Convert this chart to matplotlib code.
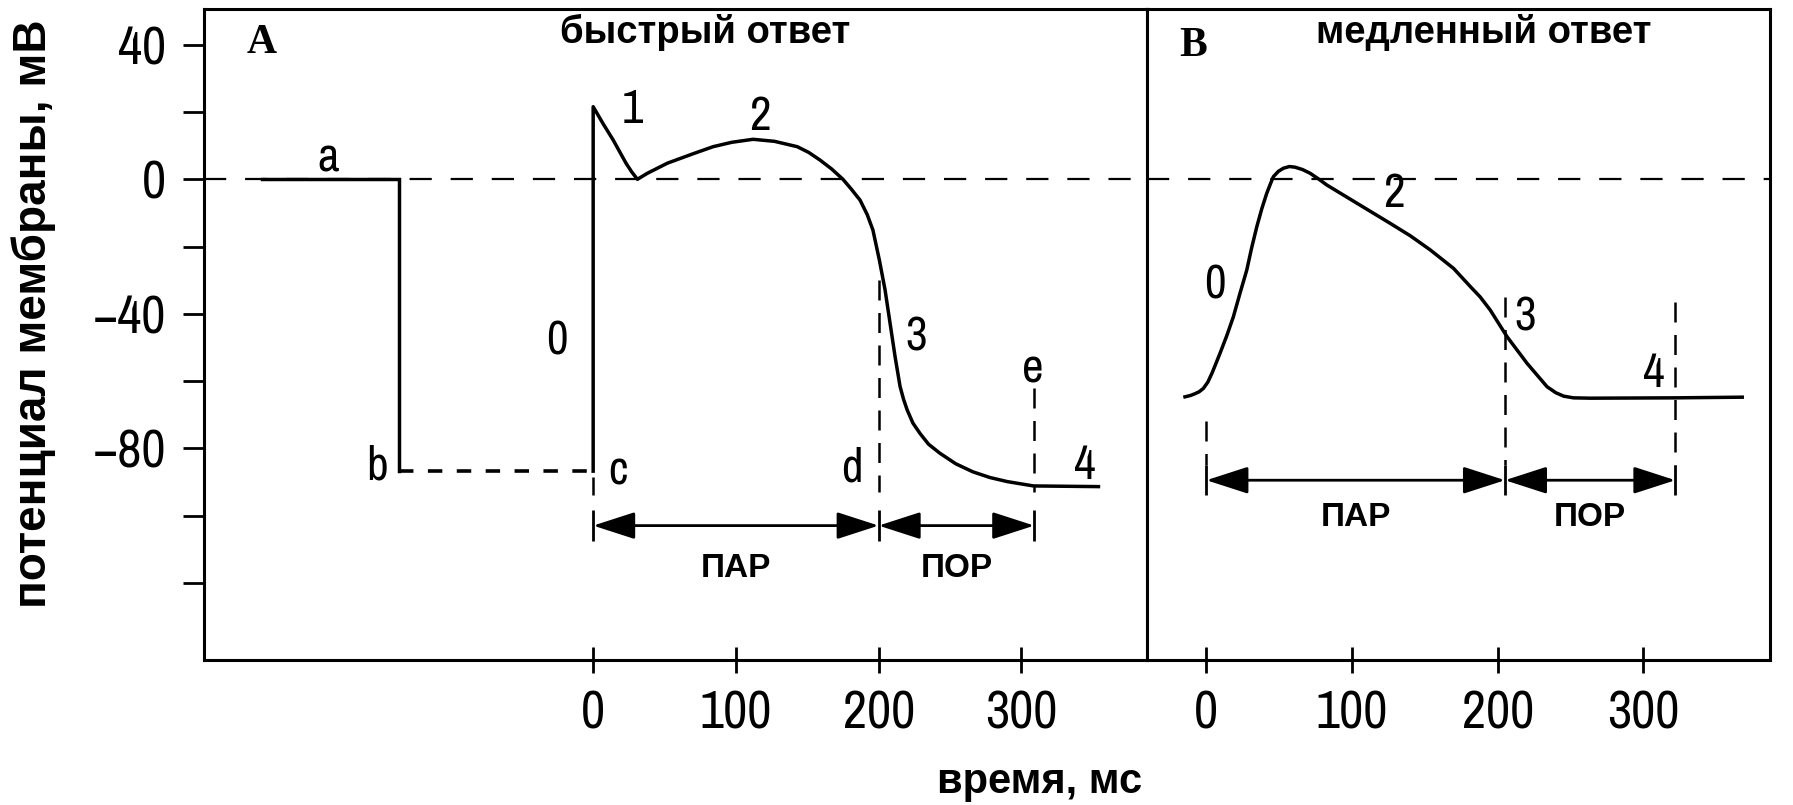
import numpy as np
import matplotlib.pyplot as plt
from matplotlib import font_manager
from matplotlib.ft2font import FT2Font


def pick_font(candidates, needed):
    # first installed family that has every needed glyph
    for name in candidates:
        for f in font_manager.fontManager.ttflist:
            if f.name == name:
                try:
                    ft = FT2Font(f.fname)
                    if all(ft.get_char_index(ord(c)) for c in needed):
                        return name
                except Exception:
                    pass
    return 'Liberation Sans'


NUM_FONT = pick_font(['Liberation Sans Narrow', 'Archivo Narrow', 'PT Sans Narrow',
                      'Roboto Condensed', 'Asap Condensed'], '0123456789abcde\u2212')

# ---- panel A: fast response (ms, mV) ----
fast_rest_t = [-232, -136, -136]
fast_rest_v = [0, 0, -86.8]
fast_hold_t = [-136, 0]
fast_hold_v = [-86.8, -86.8]
fast_t = [0, 0, 7, 14, 23, 27, 31, 38, 45, 52, 61, 70, 84, 97, 112, 127, 143, 151, 159, 167,
          175, 181, 187, 192, 196, 200.5, 204.5, 208, 211.5, 215, 217.5, 220, 224, 229, 235,
          243, 254, 266, 278, 290, 308.5, 354]
fast_v = [-86.8, 21.6, 16.5, 11.7, 4.8, 2.2, 0, 1.8, 3.3, 4.8, 6.2, 7.6, 9.7, 11.0, 11.9, 11.3,
          9.7, 8.0, 5.7, 3.1, 0, -3, -6.2, -10.5, -15.1, -24, -32.9, -42.8, -52.7, -61.6, -65.5,
          -68.6, -72.5, -75.6, -78.8, -81.5, -84.6, -87, -88.7, -89.9, -91.2, -91.4]
fast_bounds = [0, 200, 309]          # c, d, e
fast_guide_top = [-88.5, -30, -62]
fast_guide_bottom = [-94, -93, -93]
fast_arrow_v = -103
fast_phase_labels = ['0', '1', '2', '3', '4']
fast_phase_pos = [(-25.7, -48), (27.3, 20.7), (116.8, 18.6), (226.6, -46.8), (344.6, -85)]
fast_point_labels = ['a', 'b', 'c', 'd', 'e']
fast_point_pos = [(-186, 6.4), (-151.6, -85.4), (17.6, -86.8), (181, -86), (308, -56.4)]

# ---- panel B: slow response (ms, mV) ----
slow_t = [-14.7, -11, -8, -5, -2.1, 1, 4, 9.3, 14, 18.5, 23, 27.7, 31, 34.6, 38, 41.4, 44,
          46, 49.5, 52.9, 57, 60.9, 66, 71.2, 77, 82.7, 103.3, 126.2, 140, 153.7, 169.7,
          181.2, 188, 194.9, 206.4, 220.1, 233.9, 240, 245.3, 252, 263.6, 320.9, 367.9]
slow_v = [-64.7, -64.3, -63.8, -63.2, -62.2, -60.3, -57.5, -51.8, -46.5, -40.9, -34, -27,
          -20.5, -14.1, -8.8, -4.2, -1.3, 0.8, 2.4, 3.3, 3.8, 3.6, 2.9, 1.8, 0.1, -1.7, -7.1,
          -13.1, -16.8, -21, -26.5, -31.9, -35, -38.9, -46.8, -54.7, -61.7, -63.5, -64.5, -65,
          -65.1, -65, -64.8]
slow_bounds = [0, 205, 322]
slow_guide_top = [-72, -35, -36.4]
slow_arrow_v = -89.5
slow_phase_labels = ['0', '2', '3', '4']
slow_phase_pos = [(5.9, -31.4), (128.5, -4.2), (219, -40.9), (307.2, -57.7)]

period_labels = ['ПАР', 'ПОР']
x_ticks = [0, 100, 200, 300]
y_ticks = [40, 20, 0, -20, -40, -60, -80, -100, -120]
y_ticklabels = ['40', '', '0', '', '\u221240', '', '\u221280', '', '']
ylim = (-143, 50.65)

narrow_ok = NUM_FONT != 'Liberation Sans'
tick_fs = 38 if narrow_ok else 33
mark_fs = 34 if narrow_ok else 32
head_fs = 27.5
per_fs = 24

fig = plt.figure(figsize=(17.93, 8.05), dpi=100)
axA = fig.add_axes([0.1135, 0.180, 0.5262, 0.8088])
axB = fig.add_axes([0.6397, 0.180, 0.3475, 0.8088])

LW = 2.5


def setup(ax, xlim):
    ax.set_xlim(*xlim)
    ax.set_ylim(*ylim)
    for s in ax.spines.values():
        s.set_linewidth(2.2)
    ax.set_xticks(x_ticks)
    ax.set_xticklabels([str(t) for t in x_ticks], fontfamily=[NUM_FONT, 'DejaVu Sans'],
                       fontsize=tick_fs)
    ax.tick_params(axis='x', direction='inout', length=19, width=2, pad=12)
    ax.axhline(0, color='black', lw=1.6, dashes=(10, 8.5))


def period_arrows(ax, bounds, yv, bar, label_dy):
    for x0, x1, lab in zip(bounds[:-1], bounds[1:], period_labels):
        ax.annotate('', xy=(x1, yv), xytext=(x0, yv),
                    arrowprops=dict(arrowstyle='<|-|>,head_length=1.3,head_width=0.42',
                                    mutation_scale=20, lw=2, color='black',
                                    shrinkA=0, shrinkB=0))
        ax.text((x0 + x1) / 2, yv + label_dy, lab, ha='center', va='center',
                fontsize=per_fs, fontweight='bold', fontfamily='Liberation Sans')
    ax.vlines(bounds, yv - bar, yv + bar, color='black', lw=2)


# panel A
setup(axA, (-273, 388))
axA.set_yticks(y_ticks)
axA.set_yticklabels(y_ticklabels, fontfamily=[NUM_FONT, 'DejaVu Sans'], fontsize=tick_fs)
axA.tick_params(axis='y', direction='out', length=15, width=2, pad=12)
axA.plot(fast_rest_t, fast_rest_v, color='black', lw=LW, solid_joinstyle='miter')
axA.plot(fast_hold_t, fast_hold_v, color='black', lw=2.6, dashes=(4, 4))
axA.plot(fast_t, fast_v, color='black', lw=LW, solid_joinstyle='round')
axA.vlines(fast_bounds, fast_guide_top, fast_guide_bottom, color='black', lw=1.8,
           linestyles=(0, (8, 5)))
period_arrows(axA, fast_bounds, fast_arrow_v, 4.5, -12.7)
for lab, (x, y) in zip(fast_phase_labels + fast_point_labels, fast_phase_pos + fast_point_pos):
    axA.text(x, y, lab, ha='center', va='center', fontsize=mark_fs, fontfamily=NUM_FONT)
axA.text(-232, 40.4, 'A', ha='center', va='center', fontsize=30, fontweight='bold',
         fontfamily='Liberation Serif')
axA.text(78.6, 43.8, 'быстрый ответ', ha='center', va='center', fontsize=head_fs,
         fontweight='bold', fontfamily='Liberation Sans')

# panel B
setup(axB, (-40.8, 387))
axB.set_yticks([])
axB.plot(slow_t, slow_v, color='black', lw=LW, solid_joinstyle='round')
axB.vlines(slow_bounds, slow_guide_top, slow_arrow_v + 4.5, color='black', lw=1.8,
           linestyles=(0, (8, 5)))
period_arrows(axB, slow_bounds, slow_arrow_v, 4.5, -11)
for lab, (x, y) in zip(slow_phase_labels, slow_phase_pos):
    axB.text(x, y, lab, ha='center', va='center', fontsize=mark_fs, fontfamily=NUM_FONT)
axB.text(-9.4, 39.7, 'B', ha='center', va='center', fontsize=30, fontweight='bold',
         fontfamily='Liberation Serif')
axB.text(190.5, 43.8, 'медленный ответ', ha='center', va='center', fontsize=head_fs,
         fontweight='bold', fontfamily='Liberation Sans')

fig.text(0.019, 0.61, 'потенциал мембраны, мВ', rotation=90, ha='center', va='center',
         fontsize=33, fontweight='bold', fontfamily='Liberation Sans')
fig.text(0.5797, 0.0286, 'время, мс', ha='center', va='center',
         fontsize=30, fontweight='bold', fontfamily='Liberation Sans')

fig.savefig('out.png', dpi=100)
